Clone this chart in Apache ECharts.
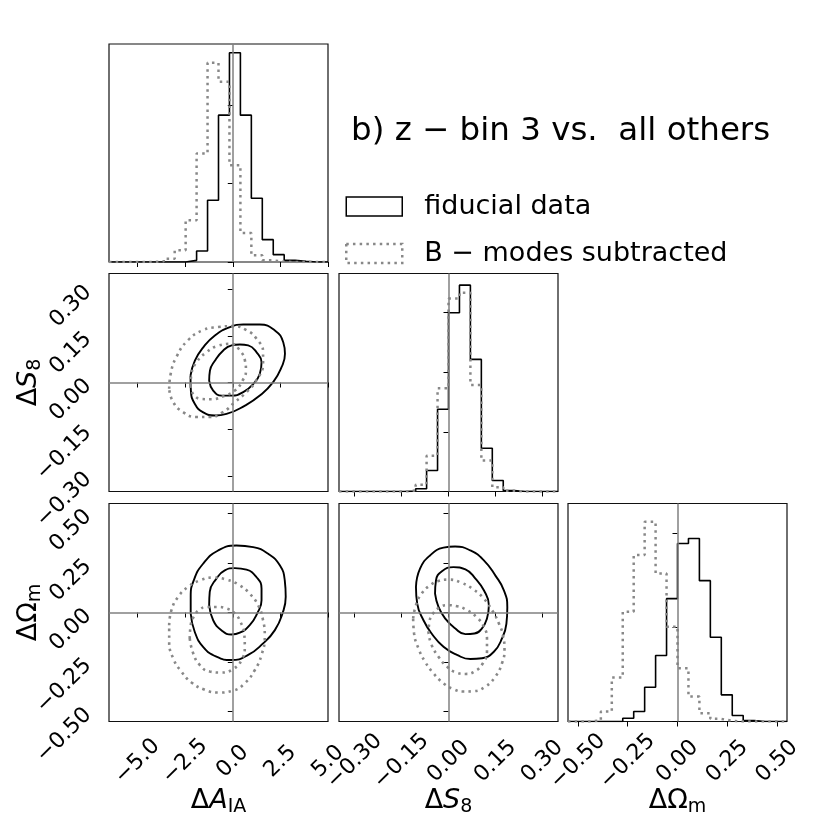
<!DOCTYPE html>
<html><head><meta charset="utf-8">
<script src="https://cdn.jsdelivr.net/npm/echarts@6/dist/echarts.min.js"></script>
<style>html,body{margin:0;padding:0;background:#fff}#c{width:831px;height:831px}</style>
</head><body><div id="c"></div>
<script>
// ---------- tick values and labels ----------
const aiaTicks = [-5, -2.5, 0, 2.5, 5];
const aiaTickLabels = ['−5.0', '−2.5', '0.0', '2.5', '5.0'];
const s8Ticks = [-0.3, -0.15, 0, 0.15, 0.3];
const s8TickLabels = ['−0.30', '−0.15', '0.00', '0.15', '0.30'];
const omTicks = [-0.5, -0.25, 0, 0.25, 0.5];
const omTickLabels = ['−0.50', '−0.25', '0.00', '0.25', '0.50'];
const aiaHistTicks = [0, 1000, 2000];
const s8HistTicks = [0, 1000, 2000, 3000];
const omHistTicks = [0, 1000, 2000];

// ---------- histogram bin edges ----------
const aiaEdges = [-6.5, -5.925, -5.35, -4.775, -4.2, -3.625, -3.05, -2.475, -1.9, -1.325, -0.75, -0.175, 0.4, 0.975, 1.55, 2.125, 2.7, 3.275, 3.85, 4.425, 5.0];
const s8Edges = [-0.35, -0.315, -0.28, -0.245, -0.21, -0.175, -0.14, -0.105, -0.07, -0.035, 0, 0.035, 0.07, 0.105, 0.14, 0.175, 0.21, 0.245, 0.28, 0.315, 0.35];
const omEdges = [-0.55, -0.495, -0.44, -0.385, -0.33, -0.275, -0.22, -0.165, -0.11, -0.055, 0, 0.055, 0.11, 0.165, 0.22, 0.275, 0.33, 0.385, 0.44, 0.495, 0.55];

// ---------- histogram counts ----------
const aiaFid = [0, 0, 0, 0, 0, 0, 0, 21, 140, 787, 1872, 2668, 1872, 813, 285, 94, 21, 9, 0, 0];
const aiaBm  = [0, 0, 0, 0, 9, 43, 149, 532, 1383, 2540, 2298, 1234, 370, 85, 21, 4, 0, 0, 0, 0];
const s8Fid  = [0, 0, 0, 0, 0, 0, 6, 45, 351, 1378, 2995, 3458, 2214, 725, 184, 17, 0, 0, 0, 0];
const s8Bm   = [0, 0, 0, 0, 0, 0, 17, 112, 597, 1729, 3235, 3330, 1785, 519, 73, 11, 0, 0, 0, 0];
const omFid  = [0, 0, 0, 0, 0, 35, 106, 364, 700, 1304, 1890, 1943, 1495, 894, 283, 64, 11, 0, 0, 0];
const omBm   = [0, 0, 11, 106, 466, 1166, 1767, 2120, 1572, 1007, 565, 265, 88, 28, 7, 0, 0, 0, 0, 0];
const aiaHistMax = 2779, s8HistMax = 3653, omHistMax = 2314;

// ---------- contour points ----------
const fidAiaS8Outer = [[-2.22,0.022],[-1.99,0.070],[-1.55,0.113],[-0.94,0.151],[-0.15,0.178],[0.55,0.186],[1.42,0.186],[2.21,0.167],[2.65,0.129],[2.74,0.092],[2.56,0.049],[2.12,0.001],[1.42,-0.042],[0.64,-0.074],[-0.33,-0.101],[-0.94,-0.106],[-1.55,-0.096],[-1.99,-0.069],[-2.20,-0.026]];
const fidAiaS8Inner = [[-1.24,0.006],[-1.20,0.038],[-0.94,0.070],[-0.50,0.103],[-0.06,0.119],[0.37,0.122],[0.81,0.119],[1.25,0.097],[1.51,0.065],[1.42,0.028],[1.07,-0.005],[0.55,-0.031],[-0.06,-0.042],[-0.59,-0.042],[-1.03,-0.026]];
const bmAiaS8Outer = [[-3.34,-0.020],[-3.26,0.028],[-2.96,0.082],[-2.35,0.136],[-1.56,0.168],[-0.77,0.178],[0.02,0.181],[0.72,0.168],[1.24,0.141],[1.59,0.098],[1.59,0.061],[1.24,0.007],[0.72,-0.031],[0.11,-0.063],[-0.51,-0.095],[-1.21,-0.111],[-1.91,-0.111],[-2.61,-0.095],[-3.13,-0.063]];
const bmAiaS8Inner = [[-2.22,-0.010],[-2.17,0.028],[-1.90,0.065],[-1.38,0.097],[-0.77,0.118],[-0.06,0.124],[0.37,0.103],[0.64,0.070],[0.69,0.038],[0.51,0.006],[0.11,-0.026],[-0.50,-0.044],[-1.12,-0.054],[-1.64,-0.053],[-2.08,-0.037]];

const fidAiaOmOuter = [[-2.21,-0.005],[-2.21,0.079],[-2.05,0.162],[-1.56,0.246],[-0.77,0.313],[0.19,0.338],[1.07,0.330],[1.86,0.296],[2.47,0.238],[2.73,0.162],[2.78,0.079],[2.61,-0.005],[2.21,-0.089],[1.59,-0.156],[0.81,-0.214],[-0.07,-0.240],[-0.86,-0.223],[-1.56,-0.173],[-2.00,-0.097]];
const fidAiaOmInner = [[-1.24,0.037],[-1.21,0.104],[-0.86,0.171],[-0.42,0.213],[0.11,0.224],[0.72,0.216],[1.24,0.179],[1.51,0.121],[1.51,0.062],[1.28,-0.005],[0.89,-0.064],[0.37,-0.102],[-0.07,-0.111],[-0.60,-0.089],[-1.03,-0.039]];
const bmAiaOmOuter = [[-3.34,-0.064],[-3.22,0.012],[-2.87,0.079],[-2.35,0.129],[-1.73,0.162],[-1.03,0.176],[-0.33,0.166],[0.37,0.137],[0.89,0.095],[1.33,0.037],[1.59,-0.039],[1.68,-0.122],[1.51,-0.214],[1.16,-0.290],[0.63,-0.357],[0.02,-0.394],[-0.77,-0.404],[-1.47,-0.390],[-2.17,-0.353],[-2.70,-0.298],[-3.13,-0.231],[-3.34,-0.147]];
const bmAiaOmInner = [[-2.26,-0.131],[-2.21,-0.064],[-2.00,-0.013],[-1.73,0.015],[-1.38,0.028],[-0.86,0.028],[-0.33,0.020],[0.11,-0.005],[0.40,-0.047],[0.60,-0.106],[0.63,-0.173],[0.46,-0.240],[0.02,-0.285],[-0.60,-0.303],[-1.21,-0.298],[-1.73,-0.265],[-2.08,-0.206]];

const fidS8OmOuter = [[-0.104,0.129],[-0.091,0.221],[-0.059,0.288],[-0.016,0.327],[0.021,0.333],[0.070,0.313],[0.113,0.263],[0.150,0.186],[0.177,0.112],[0.188,0.027],[0.185,-0.057],[0.171,-0.131],[0.145,-0.198],[0.107,-0.231],[0.070,-0.235],[0.027,-0.214],[-0.016,-0.173],[-0.054,-0.106],[-0.080,-0.039],[-0.100,0.045]];
const fidS8OmInner = [[-0.043,0.095],[-0.040,0.162],[-0.021,0.208],[0.016,0.229],[0.054,0.218],[0.086,0.171],[0.113,0.112],[0.129,0.037],[0.123,-0.030],[0.107,-0.080],[0.083,-0.106],[0.054,-0.109],[0.021,-0.080],[-0.011,-0.030],[-0.032,0.028]];
const bmS8OmOuter = [[-0.113,-0.030],[-0.104,0.037],[-0.086,0.095],[-0.059,0.137],[-0.032,0.159],[0.000,0.166],[0.043,0.149],[0.080,0.116],[0.113,0.070],[0.139,0.012],[0.161,-0.055],[0.175,-0.122],[0.179,-0.189],[0.171,-0.256],[0.150,-0.323],[0.118,-0.374],[0.080,-0.397],[0.048,-0.399],[0.016,-0.387],[-0.016,-0.357],[-0.048,-0.307],[-0.075,-0.248],[-0.096,-0.181],[-0.110,-0.106]];
const bmS8OmInner = [[-0.064,-0.106],[-0.061,-0.047],[-0.048,-0.002],[-0.029,0.025],[-0.005,0.037],[0.027,0.032],[0.059,0.012],[0.091,-0.025],[0.113,-0.072],[0.123,-0.131],[0.123,-0.198],[0.110,-0.256],[0.083,-0.298],[0.054,-0.310],[0.025,-0.303],[-0.005,-0.273],[-0.032,-0.223],[-0.054,-0.164]];

const titleText = 'b) z − bin 3 vs.  all others';
const fidName = 'fiducial data';
const bmName = 'B − modes subtracted';

// ---------- build ----------
const F = 'DejaVu Sans';
const BLACK = '#000000', GREY = '#888888';
const colsLeft = [109, 339, 568], rowsTop = [44, 273.5, 503.5], W = 219, H = 218;
const TICK_FONT = 22;
const DOTS = [2.5, 4.2];

function steps(edges, vals) {
  const out = [[edges[0], 0]];
  for (let k = 0; k < vals.length; k++) { out.push([edges[k], vals[k]]); out.push([edges[k + 1], vals[k]]); }
  out.push([edges[edges.length - 1], 0]);
  return out;
}
function closed(p) { return p.concat([p[0]]); }
function fmt(ticks, labels) {
  return v => { let b = 0; for (let i = 0; i < ticks.length; i++) if (Math.abs(ticks[i] - v) < Math.abs(ticks[b] - v)) b = i; return labels[b]; };
}
const nameRich = {
  n: { fontFamily: F, fontSize: 27, lineHeight: 32, color: '#000' },
  it: { fontFamily: F, fontSize: 27, lineHeight: 32, fontStyle: 'italic', color: '#000' },
  sub: { fontFamily: F, fontSize: 19, lineHeight: 19, verticalAlign: 'bottom', color: '#000' }
};
const names = { aia: '{n|Δ}{it|A}{sub|IA}', s8: '{n|Δ}{it|S}{sub|8}', om: '{n|ΔΩ}{sub|m}' };
const axes = {
  aia: { min: -6.5, max: 5, ticks: aiaTicks, labels: aiaTickLabels },
  s8: { min: -0.35, max: 0.35, ticks: s8Ticks, labels: s8TickLabels },
  om: { min: -0.55, max: 0.55, ticks: omTicks, labels: omTickLabels }
};
const tickStyle = { show: true, inside: false, length: 5, lineStyle: { color: '#000', width: 1 } };

const panels = [
  { r: 0, c: 0, x: 'aia', hist: { max: aiaHistMax, ticks: aiaHistTicks } },
  { r: 1, c: 0, x: 'aia', y: 's8' },
  { r: 1, c: 1, x: 's8', hist: { max: s8HistMax, ticks: s8HistTicks } },
  { r: 2, c: 0, x: 'aia', y: 'om' },
  { r: 2, c: 1, x: 's8', y: 'om' },
  { r: 2, c: 2, x: 'om', hist: { max: omHistMax, ticks: omHistTicks } }
];

const grid = [], xAxis = [], yAxis = [];
panels.forEach((p, i) => {
  grid.push({ left: colsLeft[p.c], top: rowsTop[p.r], width: W, height: H, show: true, borderColor: '#111', borderWidth: 1.2, backgroundColor: 'rgba(0,0,0,0)' });
  const ax = axes[p.x];
  const bottomRow = p.r === 2;
  xAxis.push({
    type: 'value', gridIndex: i, min: ax.min, max: ax.max,
    axisLine: { show: false }, splitLine: { show: false },
    axisTick: Object.assign({ customValues: ax.ticks }, tickStyle),
    axisLabel: {
      show: bottomRow, customValues: ax.ticks, formatter: fmt(ax.ticks, ax.labels),
      rotate: 45, align: 'center', verticalAlign: 'middle', margin: 40,
      fontFamily: F, fontSize: TICK_FONT, color: '#000'
    },
    name: bottomRow ? names[p.x] : '', nameLocation: 'middle', nameGap: 63, nameMoveOverlap: false,
    nameTextStyle: { fontFamily: F, fontSize: 27, color: '#000', rich: nameRich }
  });
  if (p.hist) {
    yAxis.push({
      type: 'value', gridIndex: i, min: 0, max: p.hist.max,
      axisLine: { show: false }, splitLine: { show: false },
      axisTick: Object.assign({ customValues: p.hist.ticks }, tickStyle),
      axisLabel: { show: false, customValues: p.hist.ticks }
    });
  } else {
    const ay = axes[p.y];
    const firstCol = p.c === 0;
    yAxis.push({
      type: 'value', gridIndex: i, min: ay.min, max: ay.max,
      axisLine: { show: false }, splitLine: { show: false },
      axisTick: Object.assign({ customValues: ay.ticks }, tickStyle),
      axisLabel: {
        show: firstCol, customValues: ay.ticks, formatter: fmt(ay.ticks, ay.labels),
        rotate: 45, margin: 21, fontFamily: F, fontSize: TICK_FONT, color: '#000'
      },
      name: firstCol ? names[p.y] : '', nameLocation: 'middle', nameGap: 64, nameMoveOverlap: false,
      nameTextStyle: { fontFamily: F, fontSize: 27, color: '#000', rich: nameRich }
    });
  }
});

const series = [];
const fidLine = { color: BLACK, width: 1.9, type: 'solid' };
const bmLine = { color: GREY, width: 2.6, type: DOTS, cap: 'butt' };
const fidHistLine = { color: BLACK, width: 1.6, type: 'solid' };
const bmHistLine = { color: GREY, width: 2.5, type: DOTS };
function addLine(i, name, data, ls, smooth) {
  series.push({
    type: 'line', name: name, xAxisIndex: i, yAxisIndex: i, data: data,
    showSymbol: false, symbol: 'none', smooth: smooth ? 0.5 : false,
    lineStyle: ls, itemStyle: { color: ls.color }, silent: true, animation: false, z: 3
  });
}
function truth(i, both) {
  const d = [{ xAxis: 0 }];
  if (both) d.push({ yAxis: 0 });
  series.push({
    type: 'line', name: 'truth', xAxisIndex: i, yAxisIndex: i, data: [], silent: true, animation: false, z: 4,
    markLine: { silent: true, symbol: ['none', 'none'], animation: false, label: { show: false },
      lineStyle: { color: '#808080', width: 1.5, type: 'solid' }, emphasis: { disabled: true }, data: d }
  });
}
addLine(0, fidName, steps(aiaEdges, aiaFid), fidHistLine, false);
addLine(0, bmName, steps(aiaEdges, aiaBm), bmHistLine, false);
truth(0, false);
addLine(2, fidName, steps(s8Edges, s8Fid), fidHistLine, false);
addLine(2, bmName, steps(s8Edges, s8Bm), bmHistLine, false);
truth(2, false);
addLine(5, fidName, steps(omEdges, omFid), fidHistLine, false);
addLine(5, bmName, steps(omEdges, omBm), bmHistLine, false);
truth(5, false);
[[1, fidAiaS8Outer, fidAiaS8Inner, bmAiaS8Outer, bmAiaS8Inner],
 [3, fidAiaOmOuter, fidAiaOmInner, bmAiaOmOuter, bmAiaOmInner],
 [4, fidS8OmOuter, fidS8OmInner, bmS8OmOuter, bmS8OmInner]].forEach(g => {
  addLine(g[0], fidName, closed(g[1]), fidLine, true);
  addLine(g[0], fidName, closed(g[2]), fidLine, true);
  addLine(g[0], bmName, closed(g[3]), bmLine, true);
  addLine(g[0], bmName, closed(g[4]), bmLine, true);
  truth(g[0], true);
});

const option = {
  backgroundColor: '#ffffff',
  animation: false,
  title: { text: titleText, left: 346, top: 110, textStyle: { fontFamily: F, fontSize: 32.5, fontWeight: 'normal', color: '#000' } },
  legend: {
    orient: 'vertical', left: 340, top: 188, itemWidth: 56, itemHeight: 19, itemGap: 20,
    selectedMode: false,
    textStyle: { fontFamily: F, fontSize: 27, color: '#000', lineHeight: 19, padding: [0, 0, 0, 17] },
    data: [
      { name: fidName, icon: 'rect', itemStyle: { color: 'rgba(0,0,0,0)', borderColor: '#000', borderWidth: 1.5 }, lineStyle: { width: 0 } },
      { name: bmName, icon: 'rect', itemStyle: { color: 'rgba(0,0,0,0)', borderColor: GREY, borderWidth: 2.5, borderType: DOTS }, lineStyle: { width: 0 } }
    ]
  },
  grid: grid, xAxis: xAxis, yAxis: yAxis, series: series
};
const chart = echarts.init(document.getElementById('c'), null, { renderer: 'canvas' });
chart.setOption(option);
</script></body></html>
